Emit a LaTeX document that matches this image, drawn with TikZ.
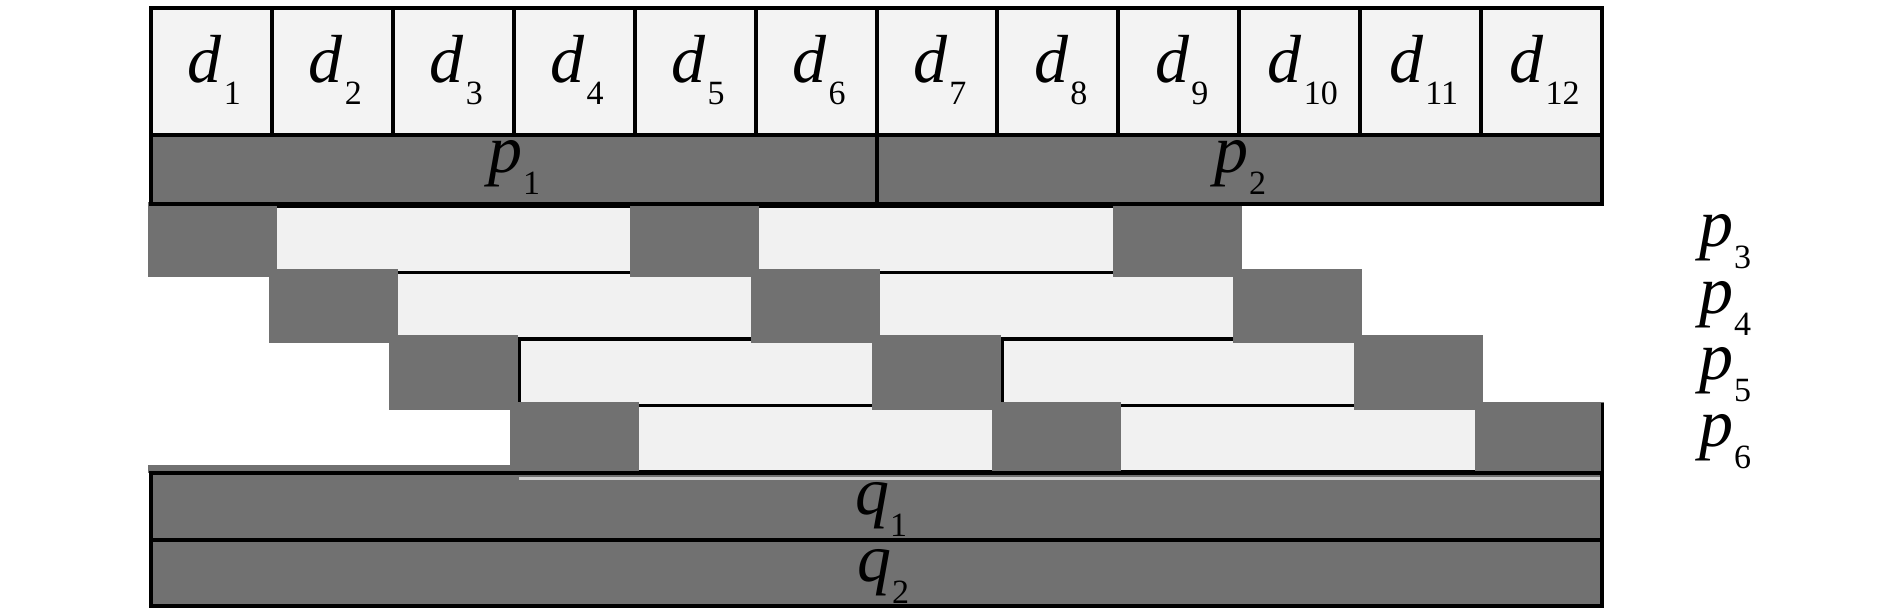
\documentclass[tikz,border=0pt]{standalone}
\usepackage{fontspec}
\setmainfont{Liberation Serif}
\definecolor{darkfill}{RGB}{113,113,113}
\definecolor{lightfill}{RGB}{241,241,241}
\definecolor{cellfill}{RGB}{243,243,243}
\definecolor{paleline}{RGB}{205,205,205}
\newcommand\symlbl[3]{{\fontsize{68}{68}\selectfont\itshape #1}\kern#3\raisebox{-22pt}{\fontsize{34}{34}\selectfont #2}}
\begin{document}
\begin{tikzpicture}[x=1pt,y=-1pt,
  cellbox/.style={draw=black,line width=4pt,fill=cellfill},
  barbox/.style={draw=black,line width=4pt,fill=darkfill},
  rowbox/.style={draw=black,line width=3.5pt,fill=lightfill},
  blockbox/.style={fill=darkfill},
  lbl/.style={anchor=base,inner sep=0pt,text=black}]
\useasboundingbox (0,0) rectangle (1890,614);
% data cells
\foreach \i in {0,...,11}{
  \pgfmathsetmacro\xa{151+120.92*\i}
  \pgfmathsetmacro\xb{151+120.92*(\i+1)}
  \draw[cellbox] (\xa,8) rectangle (\xb,135);
}
% light row bars
\foreach \k/\lo in {0/8,1/8,2/-1.5,3/8}{
  \pgfmathsetmacro\yt{206+66.5*\k}
  \pgfmathsetmacro\yb{\yt+66.5}
  \foreach \s in {0,1}{
    \pgfmathsetmacro\xa{148+120.6*(\k+4*\s)+129-\lo}
    \pgfmathsetmacro\xb{148+120.6*(\k+4*\s+4)+8}
    \draw[rowbox] (\xa,\yt) rectangle (\xb,\yb);
  }
}
% dark blocks
\foreach \k in {0,...,3}{
  \pgfmathsetmacro\yt{206+66.5*\k-4}
  \pgfmathsetmacro\yb{206+66.5*\k+66.5+4}
  \foreach \s in {0,1,2}{
    \pgfmathsetmacro\xa{148+120.6*(\k+4*\s)}
    \pgfmathsetmacro\xb{min(\xa+129,1604)}
    \fill[blockbox] (\xa,\yt) rectangle (\xb,\yb);
  }
}
\draw[line width=3.5pt] (1602.5,403) -- (1602.5,473);
% parity bars
\draw[barbox] (151,135) rectangle (877,204);
\draw[barbox] (877,135) rectangle (1602,204);
% q bars
\fill[darkfill] (148,465) rectangle (515,473);
\draw[barbox] (151,473) rectangle (1602,540);
\draw[barbox] (151,540) rectangle (1602,606);
\draw[line width=3pt,paleline] (519,478.5) -- (1600,478.5);
% labels
\foreach \i in {1,...,12}{
  \pgfmathsetmacro\xc{151+120.92*(\i-0.5)+3}
  \node[lbl] (d\i) at (\xc,82) {\symlbl{d}{\i}{2pt}};
}
\node[lbl] (p1) at (514,172) {\symlbl{p}{1}{1pt}};
\node[lbl] (p2) at (1240,172) {\symlbl{p}{2}{1pt}};
\node[lbl] (p3) at (1725,246) {\symlbl{p}{3}{1pt}};
\node[lbl] (p4) at (1725,313) {\symlbl{p}{4}{1pt}};
\node[lbl] (p5) at (1725,379) {\symlbl{p}{5}{1pt}};
\node[lbl] (p6) at (1725,446) {\symlbl{p}{6}{1pt}};
\node[lbl] (q1) at (881,514) {\symlbl{q}{1}{1pt}};
\node[lbl] (q2) at (883,581) {\symlbl{q}{2}{1pt}};
\end{tikzpicture}
\end{document}
